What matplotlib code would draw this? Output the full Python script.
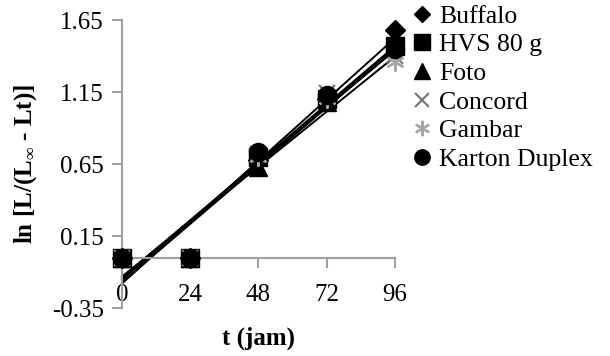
import numpy as np
import matplotlib
matplotlib.use("Agg")
import matplotlib.pyplot as plt

plt.rcParams["font.family"] = ["Liberation Serif", "DejaVu Serif"]
plt.rcParams["mathtext.fontset"] = "custom"
plt.rcParams["mathtext.rm"] = "Liberation Serif:bold"
plt.rcParams["mathtext.bf"] = "Liberation Serif:bold"

# Time points (hours)
t_hours = [0, 24, 48, 72, 96]

# ln[L/(L∞ - Lt)] for each paper type
buffalo = [0.0, 0.0, 0.68, 1.10, 1.58]
hvs_80g = [0.0, 0.0, 0.70, 1.10, 1.47]
foto = [0.0, 0.0, 0.63, 1.08, 1.48]
concord = [0.0, 0.0, 0.72, 1.14, 1.40]
gambar = [0.0, 0.0, 0.70, 1.10, 1.36]
karton_duplex = [0.0, 0.0, 0.73, 1.13, 1.45]

series_names = ["Buffalo", "HVS 80 g", "Foto", "Concord", "Gambar", "Karton Duplex"]
series_values = [buffalo, hvs_80g, foto, concord, gambar, karton_duplex]

y_ticks = [-0.35, 0.15, 0.65, 1.15, 1.65]
x_ticks = [0, 24, 48, 72, 96]

styles = [
    dict(marker="D", ms=10, color="black"),
    dict(marker="s", ms=13.5, color="black"),
    dict(marker="^", ms=13, color="black"),
    dict(marker="x", ms=12, color="#7a7a7a", mew=1.6),
    dict(marker=(6, 2, 0), ms=13, color="#a6a6a6", mew=1.6),
    dict(marker="o", ms=13, color="black"),
]

fig = plt.figure(figsize=(6.1, 3.56), dpi=100)
ax = fig.add_axes([0.2, 0.1348, 0.4475, 0.809])

x = np.array(t_hours, dtype=float)
handles = []
for name, vals, st in zip(series_names, series_values, styles):
    y = np.array(vals)
    slope, intercept = np.polyfit(x, y, 1)
    xl = np.array([0.0, 96.0])
    ax.plot(xl, slope * xl + intercept, color="black", lw=1.4, zorder=2,
            clip_on=False)
    h, = ax.plot(x, y, linestyle="none", marker=st["marker"],
                 markersize=st["ms"], color=st["color"],
                 markeredgecolor=st["color"], markeredgewidth=st.get("mew", 1.0),
                 zorder=3, clip_on=False, label=name)
    handles.append(h)

ax.set_xlim(0, 96)
ax.set_ylim(-0.35, 1.65)
ax.set_yticks(y_ticks)
ax.set_yticklabels([f"{v:.2f}" for v in y_ticks])
ax.set_xticks(x_ticks)
ax.set_xticklabels([str(v) for v in x_ticks])

for s in ["top", "right"]:
    ax.spines[s].set_visible(False)
ax.spines["bottom"].set_position(("data", 0))
for s in ["left", "bottom"]:
    ax.spines[s].set_color("#a0a0a0")
    ax.spines[s].set_linewidth(1.5)
ax.tick_params(axis="y", direction="out", length=7, width=1.5, color="#a0a0a0",
               labelsize=18, pad=6)
ax.tick_params(axis="x", direction="out", length=7, width=1.5, color="#a0a0a0",
               labelsize=18, pad=12)

ax.set_xlabel("t (jam)", fontsize=18, fontweight="bold", labelpad=15)
ax.set_ylabel("ln [L/(L$_{\u221e}$ - Lt)]", fontsize=18, fontweight="bold",
              labelpad=9)

leg = fig.legend(handles=handles, loc="upper left",
                 bbox_to_anchor=(0.652, 1.03), frameon=False, fontsize=18.5,
                 handlelength=0.7, handletextpad=0.3, labelspacing=0.22,
                 markerscale=0.85, borderpad=0.1)

fig.savefig("out.png", dpi=100)
